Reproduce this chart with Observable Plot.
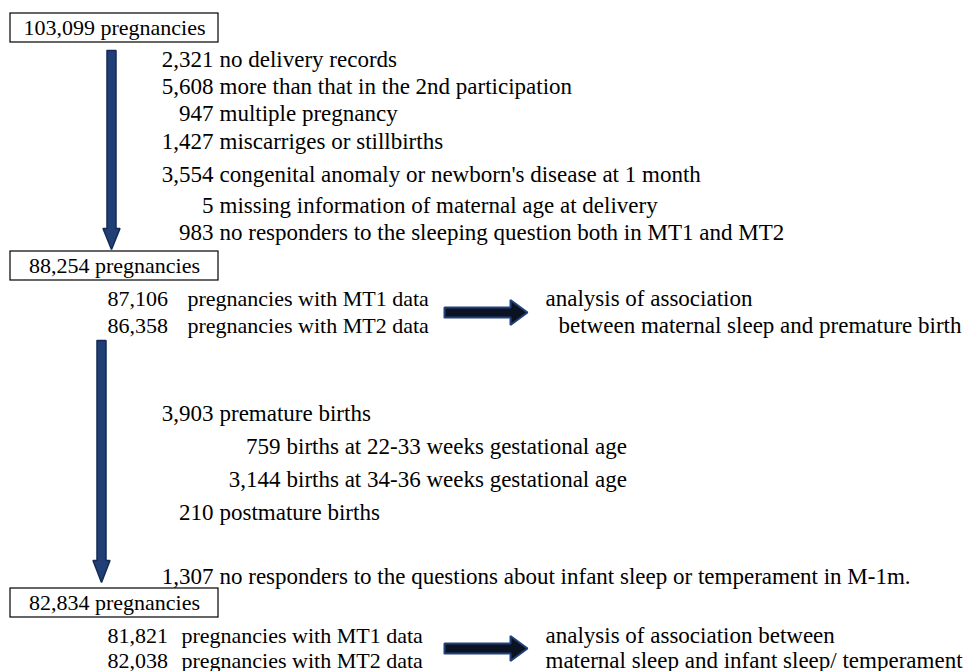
<!DOCTYPE html>
<html><head><meta charset="utf-8">
<script src="https://cdn.jsdelivr.net/npm/d3@7"></script>
<script src="https://cdn.jsdelivr.net/npm/@observablehq/plot@0.6"></script>
<style>
body{margin:0;background:#fff} svg{display:block}
</style>
</head><body><div id="chart"></div>
<script>
// ---------- data ----------
const stageCounts = [103099, 88254, 82834];
const stageLabel = "pregnancies";

const exclusion1Counts = [2321, 5608, 947, 1427, 3554, 5, 983];
const exclusion1Labels = [
  "no delivery records",
  "more than that in the 2nd participation",
  "multiple pregnancy",
  "miscarriges or stillbirths",
  "congenital anomaly or newborn's disease at 1 month",
  "missing information of maternal age at delivery",
  "no responders to the sleeping question both in MT1 and MT2"
];

const analysis1Counts = [87106, 86358];
const analysis2Counts = [81821, 82038];
const dataLabels = ["pregnancies with MT1 data", "pregnancies with MT2 data"];

const exclusion2Counts = [3903, 759, 3144, 210, 1307];
const exclusion2Labels = [
  "premature births",
  "births at 22-33 weeks gestational age",
  "births at 34-36 weeks gestational age",
  "postmature births",
  "no responders to the questions about infant sleep or temperament in M-1m."
];

const outcome1Lines = ["analysis of association", "between maternal sleep and premature birth"];
const outcome2Lines = ["analysis of association between", "maternal sleep and infant sleep/ temperament"];

// ---------- layout (flowchart geometry) ----------
const W = 969, H = 671, FS = 23, FS_PAIR = 22;
const FONT = "'Liberation Serif', 'Times New Roman', serif";
const fmt = d3.format(",");

const boxY = [[13, 42], [251, 280], [588, 617]];
const boxes = stageCounts.map((n, i) => ({
  x1: 10, x2: 218, y1: boxY[i][0], y2: boxY[i][1],
  cx: 114, cy: (boxY[i][0] + boxY[i][1]) / 2,
  label: fmt(n) + " " + stageLabel
}));

const ex1Y = [59, 86, 113, 141, 174, 205, 232];
const ex1 = exclusion1Counts.map((n, i) => ({num: fmt(n), label: exclusion1Labels[i], xn: 213, xl: 219, y: ex1Y[i]}));

const ex2Y = [413, 446, 479, 512, 576];
const ex2Xn = [213, 280, 280, 213, 213];
const ex2 = exclusion2Counts.map((n, i) => ({num: fmt(n), label: exclusion2Labels[i], xn: ex2Xn[i], xl: ex2Xn[i] + 6, y: ex2Y[i]}));

const pairs = [
  ...analysis1Counts.map((n, i) => ({num: fmt(n), label: dataLabels[i], xn: 107, xl: 187, y: [298, 325][i]})),
  ...analysis2Counts.map((n, i) => ({num: fmt(n), label: dataLabels[i], xn: 107, xl: 181, y: [635, 660][i]}))
];

const outcomes = [
  ...outcome1Lines.map((t, i) => ({t, x: [545, 558][i], y: [298, 325][i]})),
  ...outcome2Lines.map((t, i) => ({t, x: 545, y: [635, 660][i]}))
];

function arrowPoly(id, x0, y0, x1, y1, shaft, head, headLen) {
  const dx = x1 - x0, dy = y1 - y0, L = Math.hypot(dx, dy);
  const ux = dx / L, uy = dy / L, px = -uy, py = ux;
  const bx = x1 - ux * headLen, by = y1 - uy * headLen;
  const pts = [
    [x0 + px * shaft / 2, y0 + py * shaft / 2],
    [bx + px * shaft / 2, by + py * shaft / 2],
    [bx + px * head / 2, by + py * head / 2],
    [x1, y1],
    [bx - px * head / 2, by - py * head / 2],
    [bx - px * shaft / 2, by - py * shaft / 2],
    [x0 - px * shaft / 2, y0 - py * shaft / 2],
    [x0 + px * shaft / 2, y0 + py * shaft / 2]
  ];
  return pts.map(([x, y]) => ({id, x, y}));
}
const downArrows = [
  ...arrowPoly("d1", 111, 50, 111, 249, 9, 17, 21),
  ...arrowPoly("d2", 101, 340, 101, 582, 9, 17, 22)
];
const rightArrows = [
  ...arrowPoly("r1", 444, 312, 527, 312, 10, 25, 17),
  ...arrowPoly("r2", 444, 648, 527, 648, 10, 25, 17)
];

const textStyle = {fontSize: FS, fill: "black"};
const pairStyle = {fontSize: FS_PAIR, fill: "black"};

const chart = Plot.plot({
  width: W, height: H,
  marginTop: 0, marginRight: 0, marginBottom: 0, marginLeft: 0,
  x: {domain: [0, W], range: [0, W], axis: null},
  y: {domain: [0, H], range: [0, H], axis: null},
  style: "background: white; font-family: " + FONT + ";",
  marks: [
    Plot.rect(boxes, {x1: "x1", x2: "x2", y1: "y1", y2: "y2", fill: "none", stroke: "black", strokeWidth: 1.2}),
    Plot.text(boxes, {x: "cx", y: "cy", text: "label", textAnchor: "middle", ...pairStyle}),
    Plot.line(downArrows, {x: "x", y: "y", z: "id", fill: "#203f75", stroke: "#142a52", strokeWidth: 1.5, strokeLinejoin: "miter"}),
    Plot.line(rightArrows, {x: "x", y: "y", z: "id", fill: "#0b1222", stroke: "#22417a", strokeWidth: 2, strokeLinejoin: "miter"}),
    Plot.text(ex1, {x: "xn", y: "y", text: "num", textAnchor: "end", ...textStyle}),
    Plot.text(ex1, {x: "xl", y: "y", text: "label", textAnchor: "start", ...textStyle}),
    Plot.text(ex2, {x: "xn", y: "y", text: "num", textAnchor: "end", ...textStyle}),
    Plot.text(ex2, {x: "xl", y: "y", text: "label", textAnchor: "start", ...textStyle}),
    Plot.text(pairs, {x: "xn", y: "y", text: "num", textAnchor: "start", ...pairStyle}),
    Plot.text(pairs, {x: "xl", y: "y", text: "label", textAnchor: "start", ...pairStyle}),
    Plot.text(outcomes, {x: "x", y: "y", text: "t", textAnchor: "start", ...textStyle})
  ]
});
document.getElementById("chart").appendChild(chart);
</script>
</body></html>
